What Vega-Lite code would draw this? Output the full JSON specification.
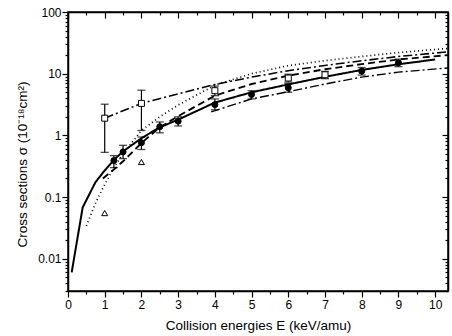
{
  "$schema": "https://vega.github.io/schema/vega-lite/v6.json",
  "width": 380,
  "height": 279,
  "autosize": "none",
  "padding": {"left": 68, "top": 12, "right": 4, "bottom": 45},
  "background": "white",
  "config": {
    "view": {"stroke": "black", "strokeWidth": 1.5},
    "axis": {
      "labelFont": "Liberation Sans", "titleFont": "Liberation Sans",
      "labelFontSize": 12, "titleFontSize": 13.5, "titleFontWeight": "normal",
      "labelColor": "black", "titleColor": "black",
      "domainColor": "black", "domainWidth": 1.5,
      "tickColor": "black", "tickWidth": 1.2, "grid": false
    }
  },
  "datasets": {
    "lines": [
      {"E": 0.1, "s": 0.006, "series": "solid"},
      {"E": 0.4, "s": 0.068, "series": "solid"},
      {"E": 0.75, "s": 0.175, "series": "solid"},
      {"E": 1, "s": 0.27, "series": "solid"},
      {"E": 1.25, "s": 0.4, "series": "solid"},
      {"E": 1.5, "s": 0.55, "series": "solid"},
      {"E": 2, "s": 0.9, "series": "solid"},
      {"E": 2.5, "s": 1.35, "series": "solid"},
      {"E": 3, "s": 1.8, "series": "solid"},
      {"E": 4, "s": 3.4, "series": "solid"},
      {"E": 5, "s": 5.0, "series": "solid"},
      {"E": 6, "s": 6.7, "series": "solid"},
      {"E": 7, "s": 8.9, "series": "solid"},
      {"E": 8, "s": 11.5, "series": "solid"},
      {"E": 9, "s": 14.2, "series": "solid"},
      {"E": 10, "s": 17, "series": "solid"},
      {"E": 0.95, "s": 0.2, "series": "dashed"},
      {"E": 1.25, "s": 0.28, "series": "dashed"},
      {"E": 1.5, "s": 0.38, "series": "dashed"},
      {"E": 2, "s": 0.75, "series": "dashed"},
      {"E": 2.5, "s": 1.35, "series": "dashed"},
      {"E": 3, "s": 2.05, "series": "dashed"},
      {"E": 4, "s": 4.4, "series": "dashed"},
      {"E": 5, "s": 6.8, "series": "dashed"},
      {"E": 6, "s": 9.3, "series": "dashed"},
      {"E": 7, "s": 11.8, "series": "dashed"},
      {"E": 8, "s": 14.3, "series": "dashed"},
      {"E": 9, "s": 17, "series": "dashed"},
      {"E": 10.35, "s": 20, "series": "dashed"},
      {"E": 0.5, "s": 0.034, "series": "dotted"},
      {"E": 0.75, "s": 0.08, "series": "dotted"},
      {"E": 1, "s": 0.16, "series": "dotted"},
      {"E": 1.25, "s": 0.3, "series": "dotted"},
      {"E": 1.5, "s": 0.5, "series": "dotted"},
      {"E": 2, "s": 1.2, "series": "dotted"},
      {"E": 2.5, "s": 2.0, "series": "dotted"},
      {"E": 3, "s": 3.1, "series": "dotted"},
      {"E": 4, "s": 6.5, "series": "dotted"},
      {"E": 5, "s": 10, "series": "dotted"},
      {"E": 6, "s": 13.5, "series": "dotted"},
      {"E": 7, "s": 16.3, "series": "dotted"},
      {"E": 8, "s": 19, "series": "dotted"},
      {"E": 9, "s": 22, "series": "dotted"},
      {"E": 10.35, "s": 25.7, "series": "dotted"},
      {"E": 1, "s": 1.9, "series": "dashdot"},
      {"E": 2, "s": 3.3, "series": "dashdot"},
      {"E": 3, "s": 4.7, "series": "dashdot"},
      {"E": 4, "s": 6.7, "series": "dashdot"},
      {"E": 5, "s": 8.8, "series": "dashdot"},
      {"E": 6, "s": 11.2, "series": "dashdot"},
      {"E": 7, "s": 13.6, "series": "dashdot"},
      {"E": 8, "s": 16.2, "series": "dashdot"},
      {"E": 9, "s": 19, "series": "dashdot"},
      {"E": 10.35, "s": 22.6, "series": "dashdot"},
      {"E": 3.9, "s": 2.4, "series": "dashdot2"},
      {"E": 5, "s": 3.9, "series": "dashdot2"},
      {"E": 6, "s": 5.1, "series": "dashdot2"},
      {"E": 7, "s": 6.8, "series": "dashdot2"},
      {"E": 8, "s": 8.8, "series": "dashdot2"},
      {"E": 9, "s": 10.6, "series": "dashdot2"},
      {"E": 10.35, "s": 12.4, "series": "dashdot2"}
    ],
    "points": [
      {"E": 1.25, "s": 0.39, "lo": 0.30, "hi": 0.47, "type": "circle"},
      {"E": 1.5, "s": 0.54, "lo": 0.42, "hi": 0.69, "type": "circle"},
      {"E": 2, "s": 0.76, "lo": 0.59, "hi": 0.94, "type": "circle"},
      {"E": 2.5, "s": 1.38, "lo": 1.1, "hi": 1.65, "type": "circle"},
      {"E": 3, "s": 1.7, "lo": 1.42, "hi": 2.0, "type": "circle"},
      {"E": 4, "s": 3.15, "lo": 2.6, "hi": 3.9, "type": "circle"},
      {"E": 5, "s": 4.6, "lo": 3.9, "hi": 5.3, "type": "circle"},
      {"E": 6, "s": 5.9, "lo": 5.0, "hi": 6.9, "type": "circle"},
      {"E": 8, "s": 11, "lo": 9.5, "hi": 12.6, "type": "circle"},
      {"E": 9, "s": 15, "lo": 13, "hi": 17.2, "type": "circle"},
      {"E": 1, "s": 1.9, "lo": 0.53, "hi": 3.2, "type": "square"},
      {"E": 2, "s": 3.3, "lo": 1.2, "hi": 5.4, "type": "square"},
      {"E": 4, "s": 5.3, "lo": 4.4, "hi": 6.3, "type": "square"},
      {"E": 6, "s": 8.5, "lo": 7.3, "hi": 9.8, "type": "square"},
      {"E": 7, "s": 9.6, "lo": 8.3, "hi": 10.9, "type": "square"},
      {"E": 1, "s": 0.055, "type": "triangle"},
      {"E": 2, "s": 0.37, "type": "triangle"}
    ]
  },
  "layer": [
    {
      "encoding": {
        "x": {
          "field": "E", "type": "quantitative",
          "scale": {"domain": [0, 10.35], "nice": false, "zero": false},
          "axis": {
            "values": [0, 0.5, 1, 1.5, 2, 2.5, 3, 3.5, 4, 4.5, 5, 5.5, 6, 6.5, 7, 7.5, 8, 8.5, 9, 9.5, 10],
            "labelExpr": "datum.value % 1 == 0 ? format(datum.value, 'd') : ''",
            "tickSize": {"condition": {"test": "datum.value % 1 == 0", "value": 6}, "value": 3},
            "labelPadding": 2,
            "labelFlush": false,
            "title": "Collision energies E (keV/amu)",
            "titlePadding": 8
          }
        },
        "y": {
          "field": "s", "type": "quantitative",
          "scale": {"type": "log", "domain": [0.003, 100], "nice": false},
          "axis": {
            "values": [0.003, 0.004, 0.005, 0.006, 0.007, 0.008, 0.009, 0.01, 0.02, 0.03, 0.04, 0.05, 0.06, 0.07, 0.08, 0.09, 0.1, 0.2, 0.3, 0.4, 0.5, 0.6, 0.7, 0.8, 0.9, 1, 2, 3, 4, 5, 6, 7, 8, 9, 10, 20, 30, 40, 50, 60, 70, 80, 90, 100],
            "labelExpr": "indexof([0.01, 0.1, 1, 10, 100], datum.value) >= 0 ? format(datum.value, '~g') : ''",
            "tickSize": {"condition": {"test": "indexof([0.01, 0.1, 1, 10, 100], datum.value) >= 0", "value": 6}, "value": 3},
            "labelPadding": 1,
            "labelFlush": false,
            "title": "Cross sections σ (10⁻¹⁸cm²)",
            "titlePadding": 8,
            "titleY": 152
          }
        }
      },
      "layer": [
        {
          "data": {"name": "lines"},
          "mark": {"type": "line", "color": "black", "clip": true},
          "encoding": {
            "strokeDash": {
              "field": "series", "type": "nominal",
              "scale": {"domain": ["solid", "dashed", "dotted", "dashdot", "dashdot2"],
                        "range": [[1, 0], [7, 4], [1, 3], [9, 3, 2, 3], [9, 3, 2, 3]]},
              "legend": null
            },
            "size": {
              "field": "series", "type": "ordinal",
              "scale": {"domain": ["solid", "dashed", "dotted", "dashdot", "dashdot2"],
                        "range": [2, 1.4, 1.1, 1.4, 1.4]},
              "legend": null
            }
          }
        },
        {
          "data": {"name": "points"},
          "transform": [{"filter": "isValid(datum.lo)"}],
          "mark": {"type": "rule", "color": "black", "strokeWidth": 1.2},
          "encoding": {
            "y": {"field": "lo", "type": "quantitative"},
            "y2": {"field": "hi"}
          }
        },
        {
          "data": {"name": "points"},
          "transform": [{"filter": "isValid(datum.lo)"}],
          "mark": {"type": "tick", "orient": "horizontal", "color": "black", "size": 8, "thickness": 1.3},
          "encoding": {"y": {"field": "lo", "type": "quantitative"}}
        },
        {
          "data": {"name": "points"},
          "transform": [{"filter": "isValid(datum.hi)"}],
          "mark": {"type": "tick", "orient": "horizontal", "color": "black", "size": 8, "thickness": 1.3},
          "encoding": {"y": {"field": "hi", "type": "quantitative"}}
        },
        {
          "data": {"name": "points"},
          "mark": {"type": "point", "filled": true, "stroke": "black", "strokeWidth": 1, "opacity": 1},
          "encoding": {
            "shape": {
              "field": "type", "type": "nominal",
              "scale": {"domain": ["circle", "square", "triangle"], "range": ["circle", "square", "triangle-up"]},
              "legend": null
            },
            "fill": {
              "field": "type", "type": "nominal",
              "scale": {"domain": ["circle", "square", "triangle"], "range": ["black", "white", "white"]},
              "legend": null
            },
            "size": {"value": 36}
          }
        }
      ]
    },
    {
      "data": {"name": "points"},
      "mark": {"type": "point", "opacity": 0},
      "encoding": {
        "x": {
          "field": "E", "type": "quantitative",
          "scale": {"domain": [0, 10.35], "nice": false, "zero": false},
          "axis": {
            "orient": "top",
            "values": [0, 0.5, 1, 1.5, 2, 2.5, 3, 3.5, 4, 4.5, 5, 5.5, 6, 6.5, 7, 7.5, 8, 8.5, 9, 9.5, 10],
            "labels": false,
            "title": null,
            "tickSize": {"condition": {"test": "datum.value % 1 == 0", "value": -6}, "value": -3}
          }
        },
        "y": {
          "field": "s", "type": "quantitative",
          "scale": {"type": "log", "domain": [0.003, 100], "nice": false},
          "axis": {
            "orient": "right",
            "values": [0.003, 0.004, 0.005, 0.006, 0.007, 0.008, 0.009, 0.01, 0.02, 0.03, 0.04, 0.05, 0.06, 0.07, 0.08, 0.09, 0.1, 0.2, 0.3, 0.4, 0.5, 0.6, 0.7, 0.8, 0.9, 1, 2, 3, 4, 5, 6, 7, 8, 9, 10, 20, 30, 40, 50, 60, 70, 80, 90, 100],
            "labels": false,
            "title": null,
            "tickSize": {"condition": {"test": "indexof([0.01, 0.1, 1, 10, 100], datum.value) >= 0", "value": -6}, "value": -3}
          }
        }
      }
    }
  ],
  "resolve": {"axis": {"x": "independent", "y": "independent"}}
}
